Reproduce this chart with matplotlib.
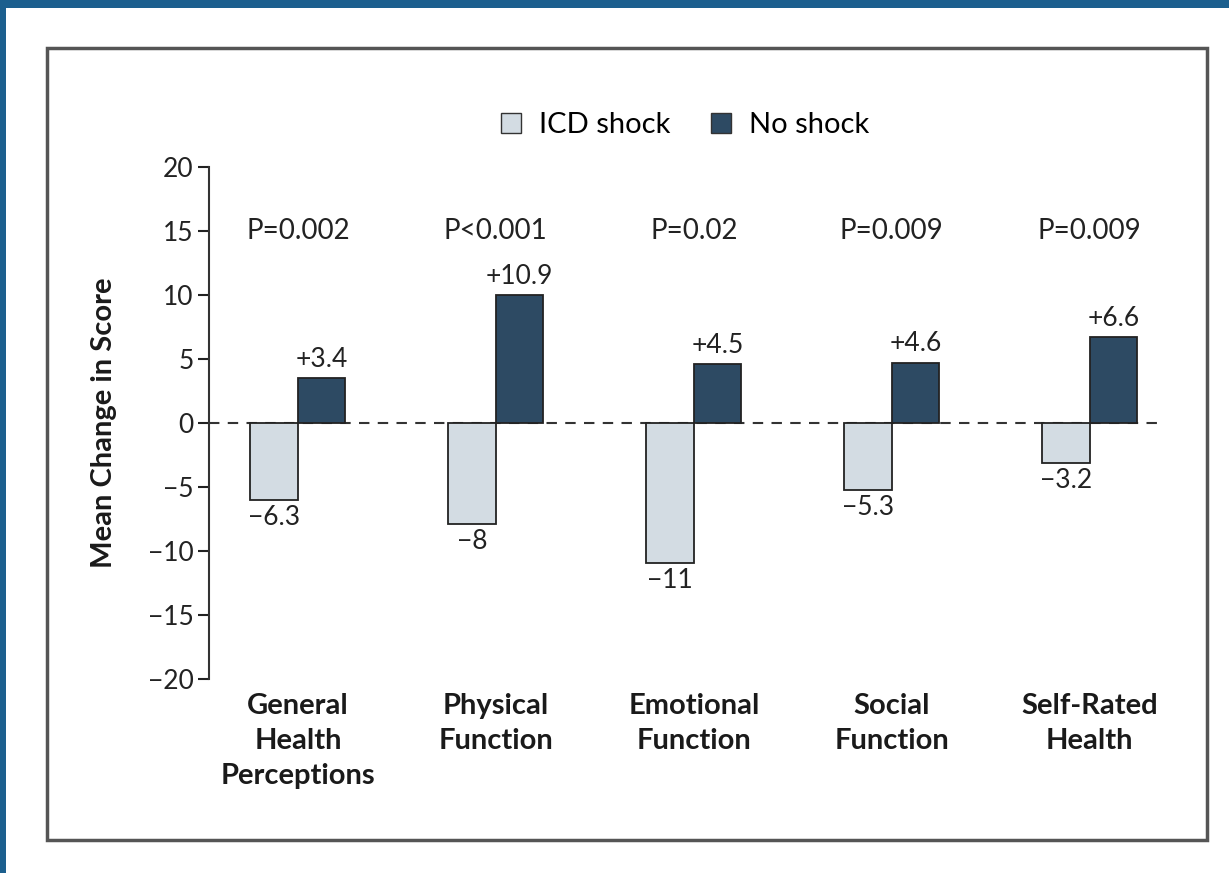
import matplotlib
matplotlib.use("Agg")
import matplotlib.pyplot as plt
from matplotlib.patches import Rectangle, Patch

plt.rcParams['font.family'] = ['Lato', 'DejaVu Sans']

categories = ["General\nHealth\nPerceptions", "Physical\nFunction", "Emotional\nFunction",
              "Social\nFunction", "Self-Rated\nHealth"]
icd_shock = [-6.0, -7.9, -10.9, -5.2, -3.1]
no_shock = [3.5, 10.0, 4.6, 4.7, 6.7]
icd_labels = ["\u22126.3", "\u22128", "\u221211", "\u22125.3", "\u22123.2"]
no_labels = ["+3.4", "+10.9", "+4.5", "+4.6", "+6.6"]
p_values = ["P=0.002", "P<0.001", "P=0.02", "P=0.009", "P=0.009"]

light = "#D3DCE3"
dark = "#2D4A63"
W, H = 1229, 873

fig = plt.figure(figsize=(W / 100, H / 100), dpi=100)
fig.patch.set_facecolor("white")

# blue frame and gray panel border
fig.patches.append(Rectangle((0, 865 / H), 1, 8 / H, transform=fig.transFigure,
                             facecolor="#1C5F8E", edgecolor="none"))
fig.patches.append(Rectangle((0, 0), 6 / W, 1, transform=fig.transFigure,
                             facecolor="#1C5F8E", edgecolor="none"))
fig.patches.append(Rectangle((47 / W, 33 / H), 1160 / W, 792 / H, transform=fig.transFigure,
                             facecolor="none", edgecolor="#555555", linewidth=2.5))

ax = fig.add_axes([209 / W, 194 / H, 956 / W, 512 / H])
ax.set_facecolor("none")

x = list(range(len(categories)))
w = 0.24
ax.bar([i - w / 2 for i in x], icd_shock, w, color=light, edgecolor="#222222", linewidth=1.3, zorder=3)
ax.bar([i + w / 2 for i in x], no_shock, w, color=dark, edgecolor="#222222", linewidth=1.3, zorder=3)
ax.axhline(0, color="#333333", linewidth=1.5, linestyle=(0, (5, 4)), zorder=2)

for i in x:
    ax.text(i + w / 2, no_shock[i] + 0.5, no_labels[i], ha="center", va="bottom", fontsize=19, color="#222222")
    ax.text(i - w / 2, icd_shock[i] - 0.4, icd_labels[i], ha="center", va="top", fontsize=19, color="#222222")
    ax.text(i, 15, p_values[i], ha="center", va="center", fontsize=20, color="#222222")

ax.set_xlim(-0.449, 4.38)
ax.set_ylim(-20, 20)
ax.set_yticks(range(-20, 21, 5))
ax.set_xticks(x)
ax.set_xticklabels(categories, fontsize=21, fontweight="bold", linespacing=1.42, color="#1a1a1a")
ax.tick_params(axis="x", length=0, pad=10)
ax.tick_params(axis="y", length=8, width=1.5, labelsize=19, colors="#222222", pad=3)
for s in ["top", "right", "bottom"]:
    ax.spines[s].set_visible(False)
ax.spines["left"].set_linewidth(1.5)
ax.spines["left"].set_color("#333333")
ax.set_ylabel("Mean Change in Score", fontsize=21, fontweight="bold", labelpad=22, color="#1a1a1a")

handles = [Patch(facecolor=light, edgecolor="#333333", label="ICD shock"),
           Patch(facecolor=dark, edgecolor="#333333", label="No shock")]
fig.legend(handles=handles, loc="center", bbox_to_anchor=(685 / W, 1 - 125 / H), ncol=2,
           frameon=False, fontsize=21, handlelength=0.7, handleheight=0.7,
           handletextpad=0.6, columnspacing=1.4)

fig.savefig("out.png", dpi=100)
